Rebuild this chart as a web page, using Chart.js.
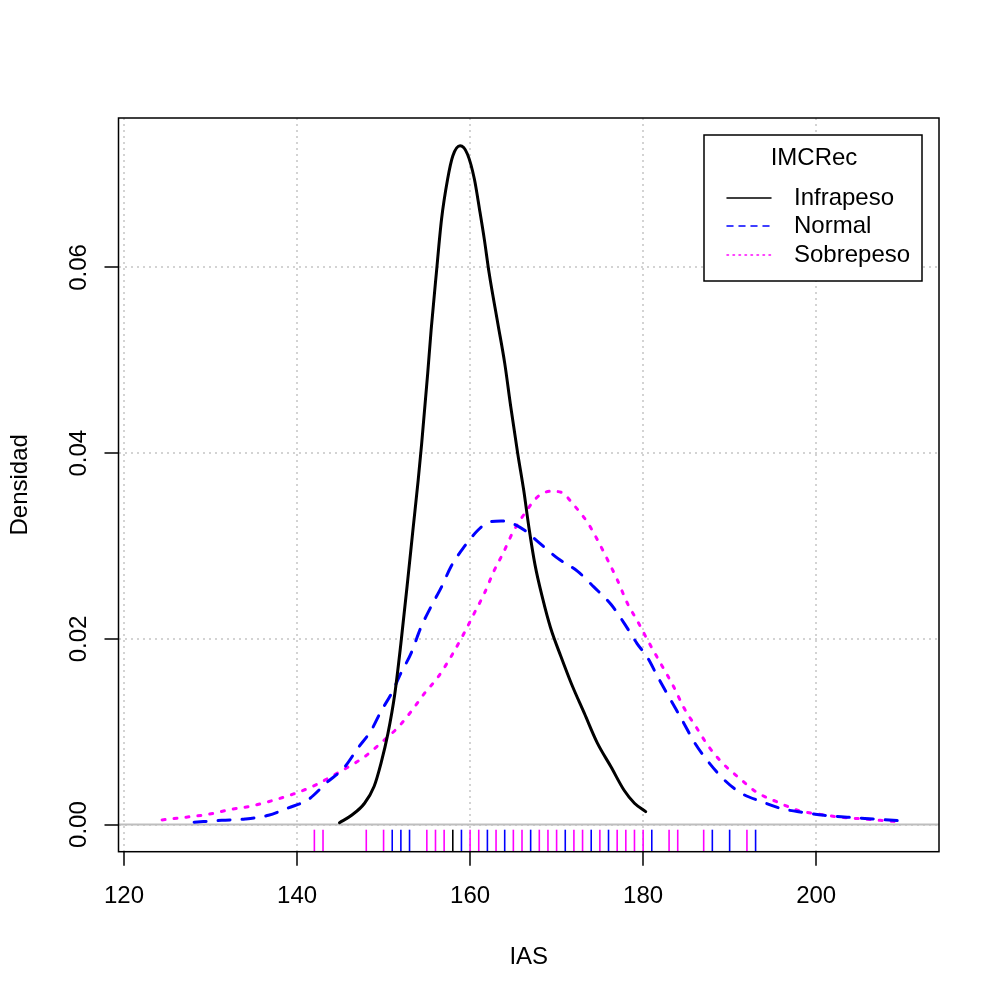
<!DOCTYPE html>
<html>
<head>
<meta charset="utf-8">
<script src="https://cdn.jsdelivr.net/npm/chart.js@4.4.1/dist/chart.umd.min.js"></script>
<style>
  html, body { margin: 0; padding: 0; background: #fff; }
  #wrap { width: 1000px; height: 1000px; }
</style>
</head>
<body>
<div id="wrap"><canvas id="densChart" width="1000" height="1000"></canvas></div>
<script>
// density curves (IAS, density)
const infraX = [144.9, 146.3, 147.8, 148.9, 149.7, 150.5, 151.3, 152.0, 152.8, 153.4, 154.0, 154.4, 155.1, 155.5, 156.1, 156.7, 157.4, 158.0, 158.85, 159.7, 160.5, 161.1, 161.65, 162.2, 163.2, 164.0, 164.7, 165.5, 166.2, 166.8, 167.5, 168.4, 169.3, 170.5, 171.7, 173.2, 174.7, 176.3, 177.8, 179.0, 180.3];
const infraY = [0.0002, 0.0010, 0.0023, 0.0041, 0.0066, 0.0098, 0.0141, 0.0195, 0.0264, 0.0318, 0.0371, 0.0410, 0.0486, 0.0533, 0.0594, 0.0652, 0.0695, 0.0720, 0.0731, 0.0722, 0.0695, 0.0662, 0.0630, 0.0594, 0.0540, 0.0497, 0.0450, 0.0400, 0.0360, 0.0320, 0.0280, 0.0243, 0.0212, 0.0181, 0.0152, 0.0120, 0.0088, 0.0062, 0.0037, 0.0023, 0.0014];

const normalX = [128.1, 131.3, 134.0, 136.7, 139.0, 141.3, 143.4, 145.5, 147.0, 148.6, 149.7, 150.9, 152.0, 153.2, 154.3, 155.5, 156.7, 157.8, 159.3, 160.9, 162.0, 163.6, 164.7, 166.3, 167.8, 170.1, 172.4, 174.3, 176.3, 177.8, 179.3, 180.5, 181.7, 183.2, 184.6, 185.9, 187.5, 189.4, 191.3, 193.6, 196.1, 198.6, 200.9, 203.6, 206.7, 209.8];
const normalY = [0.00025, 0.00046, 0.0006, 0.0010, 0.0018, 0.0027, 0.0045, 0.0062, 0.0082, 0.0102, 0.0122, 0.0141, 0.0163, 0.0185, 0.0212, 0.0235, 0.0256, 0.0278, 0.0299, 0.0317, 0.0325, 0.0327, 0.0325, 0.0317, 0.0305, 0.0287, 0.0273, 0.0256, 0.0237, 0.0217, 0.0195, 0.0180, 0.0159, 0.0134, 0.0111, 0.0089, 0.0068, 0.0048, 0.0034, 0.0025, 0.0017, 0.0013, 0.0010, 0.0008, 0.0006, 0.0004];

const sobreX = [124.4, 127.2, 129.7, 132.2, 134.7, 137.2, 139.6, 142.0, 144.0, 145.9, 147.8, 149.7, 151.7, 153.2, 154.7, 156.3, 157.8, 159.3, 160.5, 161.65, 162.8, 163.8, 164.9, 166.3, 167.8, 169.3, 170.5, 172.0, 173.6, 174.7, 175.9, 177.0, 178.2, 179.3, 180.5, 182.0, 183.5, 184.7, 186.2, 187.5, 189.2, 191.0, 193.1, 195.6, 198.0, 200.5, 202.8, 205.5, 208.2, 209.6];
const sobreY = [0.0005, 0.0008, 0.0011, 0.0016, 0.0020, 0.0026, 0.0033, 0.0042, 0.0052, 0.0062, 0.0073, 0.0088, 0.0105, 0.0122, 0.0141, 0.0159, 0.0181, 0.0206, 0.0228, 0.0249, 0.0274, 0.0292, 0.0314, 0.0335, 0.0353, 0.0359, 0.0358, 0.0344, 0.0325, 0.0307, 0.0285, 0.0264, 0.0238, 0.0220, 0.0199, 0.0174, 0.0149, 0.0126, 0.0104, 0.0085, 0.0066, 0.0051, 0.0035, 0.0024, 0.0015, 0.0011, 0.0008, 0.0006, 0.0004, 0.0003];

// rug of observations per group
const rugInfra = [158];
const rugNormal = [151, 152, 153, 159, 162, 164, 167, 171, 174, 176, 181, 188, 190, 193];
const rugSobre = [142, 143, 148, 150, 155, 156, 157, 160, 161, 163, 165, 166, 168, 169, 170, 172, 173, 175, 177, 178, 179, 180, 183, 184, 187, 192];

const groupNames = ['Infrapeso', 'Normal', 'Sobrepeso'];
const legendTitle = 'IMCRec';
const xTitle = 'IAS';
const yTitle = 'Densidad';

const FONT = "'Liberation Sans', Arial, sans-serif";
Chart.defaults.font.family = FONT;
Chart.defaults.font.size = 24;
Chart.defaults.color = '#000';

function toPoints(xs, ys) {
    return xs.map((x, i) => ({ x: x, y: ys[i] }));
}

const rPlot = {
    id: 'rPlot',
    beforeDatasetsDraw(chart) {
        const { ctx, chartArea: a, scales } = chart;
        // abline(h = 0, col = "gray")
        const y0 = scales.y.getPixelForValue(0);
        ctx.save();
        ctx.strokeStyle = '#BEBEBE';
        ctx.lineWidth = 2;
        ctx.beginPath();
        ctx.moveTo(a.left, y0);
        ctx.lineTo(a.right, y0);
        ctx.stroke();
        ctx.restore();
    },
    afterDatasetsDraw(chart) {
        const { ctx, chartArea: a, scales } = chart;
        ctx.save();

        // rug marks
        const rugLen = 0.03 * (a.bottom - a.top);
        const rugs = [[rugSobre, '#FF00FF'], [rugNormal, '#0000FF'], [rugInfra, '#000000']];
        ctx.lineWidth = 1.6;
        rugs.forEach(([vals, col]) => {
            ctx.strokeStyle = col;
            vals.forEach(v => {
                const px = scales.x.getPixelForValue(v);
                ctx.beginPath();
                ctx.moveTo(px, a.bottom);
                ctx.lineTo(px, a.bottom - rugLen);
                ctx.stroke();
            });
        });

        // box()
        ctx.strokeStyle = '#000';
        ctx.lineWidth = 1.5;
        ctx.strokeRect(a.left, a.top, a.right - a.left, a.bottom - a.top);

        // rotated y tick labels like R's las = 0
        ctx.fillStyle = '#000';
        ctx.font = '24px ' + FONT;
        ctx.textAlign = 'center';
        ctx.textBaseline = 'alphabetic';
        scales.y.ticks.forEach(t => {
            const py = scales.y.getPixelForValue(t.value);
            ctx.save();
            ctx.translate(86, py);
            ctx.rotate(-Math.PI / 2);
            ctx.fillText(t.value.toFixed(2), 0, 0);
            ctx.restore();
        });

        // legend box, top right
        const lx = 704, ly = 135, lw = 218, lh = 146;
        ctx.fillStyle = '#fff';
        ctx.fillRect(lx, ly, lw, lh);
        ctx.strokeStyle = '#000';
        ctx.lineWidth = 1.5;
        ctx.strokeRect(lx, ly, lw, lh);
        ctx.fillStyle = '#000';
        ctx.textAlign = 'center';
        ctx.textBaseline = 'middle';
        ctx.fillText(legendTitle, 814, 158);
        const rows = [198, 226, 255];
        const legDash = [[], [6, 6], [1.5, 4.5]];
        chart.data.datasets.forEach((ds, i) => {
            ctx.strokeStyle = ds.borderColor;
            ctx.lineWidth = 1.5;
            ctx.lineCap = 'round';
            ctx.setLineDash(legDash[i]);
            ctx.beginPath();
            ctx.moveTo(727, rows[i]);
            ctx.lineTo(771, rows[i]);
            ctx.stroke();
            ctx.setLineDash([]);
            ctx.textAlign = 'left';
            ctx.fillStyle = '#000';
            ctx.fillText(ds.label, 794, rows[i]);
        });
        ctx.restore();
    }
};

const gridStyle = {
    color: '#D3D3D3',
    lineWidth: 2,
    tickColor: '#000',
    tickWidth: 1.5,
    tickLength: 14
};

const ctx = document.getElementById('densChart').getContext('2d');
new Chart(ctx, {
    type: 'line',
    data: {
        datasets: [
            {
                label: groupNames[0],
                data: toPoints(infraX, infraY),
                borderColor: '#000000',
                borderWidth: 3,
                borderCapStyle: 'round',
                pointRadius: 0,
                cubicInterpolationMode: 'monotone',
                fill: false
            },
            {
                label: groupNames[1],
                data: toPoints(normalX, normalY),
                borderColor: '#0000FF',
                borderWidth: 3,
                borderDash: [12, 12],
                borderCapStyle: 'round',
                pointRadius: 0,
                cubicInterpolationMode: 'monotone',
                fill: false
            },
            {
                label: groupNames[2],
                data: toPoints(sobreX, sobreY),
                borderColor: '#FF00FF',
                borderWidth: 3,
                borderDash: [3, 9],
                borderCapStyle: 'round',
                pointRadius: 0,
                cubicInterpolationMode: 'monotone',
                fill: false
            }
        ]
    },
    options: {
        responsive: false,
        animation: false,
        devicePixelRatio: 1,
        layout: { padding: { top: 118, right: 61, left: 0, bottom: 0 } },
        plugins: {
            legend: { display: false },
            tooltip: { enabled: false }
        },
        scales: {
            x: {
                type: 'linear',
                min: 119.36,
                max: 214.2,
                afterFit(scale) { scale.height = 148.3; },
                ticks: { stepSize: 20, includeBounds: false, padding: 16, font: { size: 24 } },
                grid: gridStyle,
                border: { display: false, dash: [2, 4] },
                title: { display: true, text: xTitle, font: { size: 24 }, padding: { top: 0, bottom: 28.6 } }
            },
            y: {
                type: 'linear',
                min: -0.00292,
                max: 0.0761,
                afterFit(scale) { scale.width = 118.5; },
                ticks: { stepSize: 0.02, includeBounds: false, display: false },
                grid: gridStyle,
                border: { display: false, dash: [2, 4] },
                title: { display: true, text: yTitle, font: { size: 24 }, padding: { top: 5.6, bottom: 0 } }
            }
        }
    },
    plugins: [rPlot]
});
</script>
</body>
</html>
